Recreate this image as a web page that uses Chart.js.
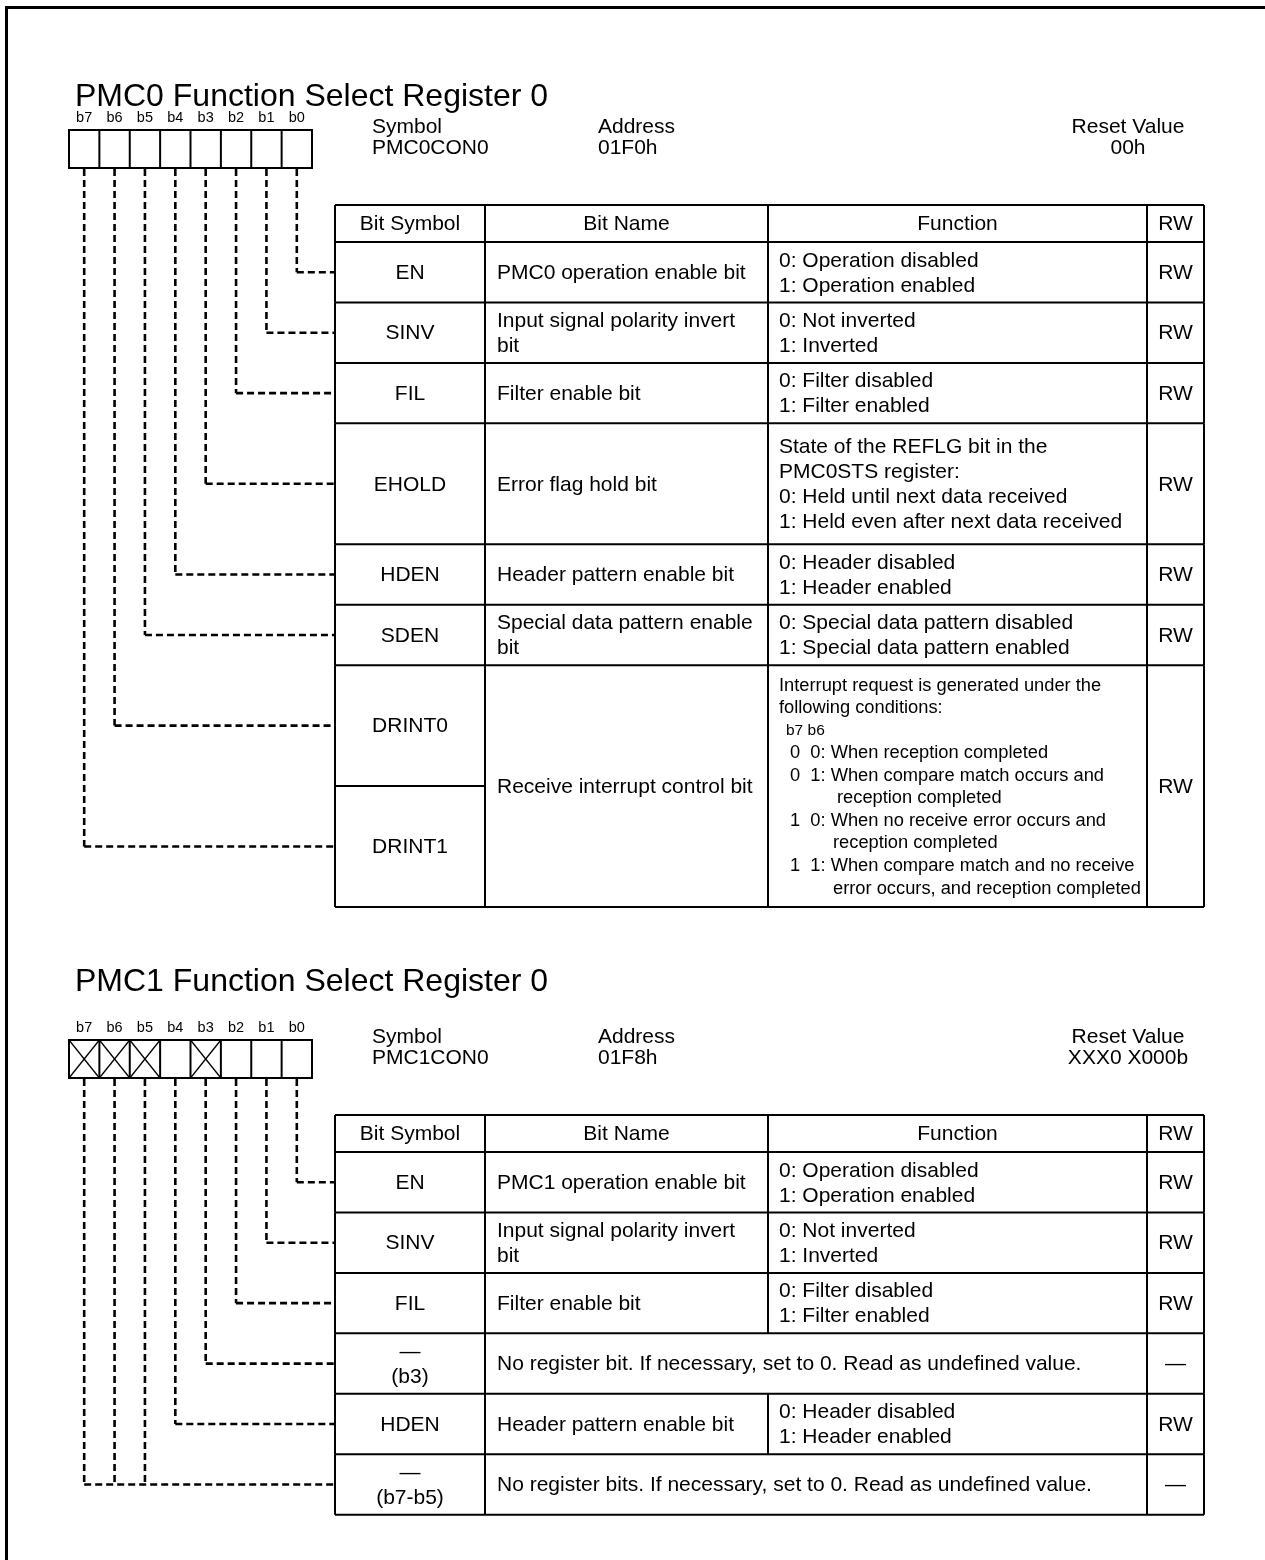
<!DOCTYPE html>
<html>
<head>
<meta charset="utf-8">
<script src="https://cdn.jsdelivr.net/npm/chart.js@4.4.0/dist/chart.umd.min.js"></script>
<style>
    html, body { margin: 0; padding: 0; background: #fff; }
    canvas { display: block; }
</style>
</head>
<body>
<canvas id="regChart" width="1265" height="1560"></canvas>
<script>
// ---- DATA ----
const bitLabels = ['b7', 'b6', 'b5', 'b4', 'b3', 'b2', 'b1', 'b0'];
const headerLabels = ['Bit Symbol', 'Bit Name', 'Function', 'RW'];
const infoLabels = ['Symbol', 'Address', 'Reset Value'];

const reg0Title = 'PMC0 Function Select Register 0';
const reg0Info = ['PMC0CON0', '01F0h', '00h'];
const reg0Unused = [];
const drintFunc = [
    'Interrupt request is generated under the',
    'following conditions:',
    'b7 b6',
    '0  0: When reception completed',
    '0  1: When compare match occurs and',
    'reception completed',
    '1  0: When no receive error occurs and',
    'reception completed',
    '1  1: When compare match and no receive',
    'error occurs, and reception completed'
];
const reg0Rows = [
    { syms: [['EN']], bits: [[0]], name: ['PMC0 operation enable bit'], func: ['0: Operation disabled', '1: Operation enabled'], rw: 'RW' },
    { syms: [['SINV']], bits: [[1]], name: ['Input signal polarity invert', 'bit'], func: ['0: Not inverted', '1: Inverted'], rw: 'RW' },
    { syms: [['FIL']], bits: [[2]], name: ['Filter enable bit'], func: ['0: Filter disabled', '1: Filter enabled'], rw: 'RW' },
    { syms: [['EHOLD']], bits: [[3]], name: ['Error flag hold bit'], func: ['State of the REFLG bit in the', 'PMC0STS register:', '0: Held until next data received', '1: Held even after next data received'], rw: 'RW' },
    { syms: [['HDEN']], bits: [[4]], name: ['Header pattern enable bit'], func: ['0: Header disabled', '1: Header enabled'], rw: 'RW' },
    { syms: [['SDEN']], bits: [[5]], name: ['Special data pattern enable', 'bit'], func: ['0: Special data pattern disabled', '1: Special data pattern enabled'], rw: 'RW' },
    { syms: [['DRINT0'], ['DRINT1']], bits: [[6], [7]], name: ['Receive interrupt control bit'], func: drintFunc, rw: 'RW' }
];

const reg1Title = 'PMC1 Function Select Register 0';
const reg1Info = ['PMC1CON0', '01F8h', 'XXX0 X000b'];
const reg1Unused = [7, 6, 5, 3];
const reg1Rows = [
    { syms: [['EN']], bits: [[0]], name: ['PMC1 operation enable bit'], func: ['0: Operation disabled', '1: Operation enabled'], rw: 'RW' },
    { syms: [['SINV']], bits: [[1]], name: ['Input signal polarity invert', 'bit'], func: ['0: Not inverted', '1: Inverted'], rw: 'RW' },
    { syms: [['FIL']], bits: [[2]], name: ['Filter enable bit'], func: ['0: Filter disabled', '1: Filter enabled'], rw: 'RW' },
    { syms: [['\u2014', '(b3)']], bits: [[3]], name: null, func: ['No register bit. If necessary, set to 0. Read as undefined value.'], rw: '\u2014' },
    { syms: [['HDEN']], bits: [[4]], name: ['Header pattern enable bit'], func: ['0: Header disabled', '1: Header enabled'], rw: 'RW' },
    { syms: [['\u2014', '(b7-b5)']], bits: [[5, 6, 7]], name: null, func: ['No register bits. If necessary, set to 0. Read as undefined value.'], rw: '\u2014' }
];

// ---- LAYOUT ----
const W = 1265, H = 1560;
const FONT = '"Liberation Sans", Arial, Helvetica, sans-serif';
const BOX = { x: 69, cell: 30.375, h: 38 };
const COLS = [335, 485, 768, 1147, 1204];
const HEADER_H = 37;
const UNIT = 60.45;
const LH = 25;

const layouts = [
    { titleY: 97, boxTop: 130, infoY: 126, tableTop: 205, units: [[1], [1], [1], [2], [1], [1], [2, 2]], dense: 6 },
    { titleY: 982, boxTop: 1040, infoY: 1036, tableTop: 1115, units: [[1], [1], [1], [1], [1], [1]], dense: -1 }
];
const denseIndent = [0, 0, 7, 11, 11, 58, 11, 54, 11, 54];

const registers = [
    { title: reg0Title, info: reg0Info, unused: reg0Unused, rows: reg0Rows },
    { title: reg1Title, info: reg1Info, unused: reg1Unused, rows: reg1Rows }
];

// bit index (7..0) -> centre of its box cell
function bitX(bit) {
    return BOX.x + (7 - bit + 0.5) * BOX.cell;
}

const diagramPlugin = {
    id: 'registerDiagram',
    afterDraw(chart) {
        const ctx = chart.ctx;
        const sx = v => chart.scales.x.getPixelForValue(v);
        const sy = v => chart.scales.y.getPixelForValue(v);

        function seg(x1, y1, x2, y2) {
            ctx.beginPath();
            ctx.moveTo(sx(x1), sy(y1));
            ctx.lineTo(sx(x2), sy(y2));
            ctx.stroke();
        }
        function txt(s, x, y, size, align) {
            ctx.font = size + 'px ' + FONT;
            ctx.textAlign = align || 'left';
            ctx.textBaseline = 'middle';
            ctx.fillText(s, sx(x), sy(y));
        }
        function lines(arr, x, midY, size, align) {
            const top = midY - (arr.length - 1) * LH / 2;
            arr.forEach((s, i) => txt(s, x, top + i * LH, size, align));
        }

        ctx.save();
        ctx.fillStyle = '#000';
        ctx.strokeStyle = '#000';

        // outer frame (top + left)
        ctx.lineWidth = 3;
        ctx.beginPath();
        ctx.moveTo(sx(6.5), sy(H));
        ctx.lineTo(sx(6.5), sy(7.5));
        ctx.lineTo(sx(W), sy(7.5));
        ctx.stroke();

        registers.forEach((reg, ri) => {
            const lay = layouts[ri];
            const boxBottom = lay.boxTop + BOX.h;

            txt(reg.title, 75, lay.titleY, 32);

            // bit labels and register box
            bitLabels.forEach((b, i) => txt(b, BOX.x + (i + 0.5) * BOX.cell, lay.boxTop - 12, 14.5, 'center'));
            ctx.lineWidth = 2;
            ctx.setLineDash([]);
            ctx.strokeRect(sx(BOX.x), sy(lay.boxTop), 8 * BOX.cell, BOX.h);
            for (let i = 1; i < 8; i++) seg(BOX.x + i * BOX.cell, lay.boxTop, BOX.x + i * BOX.cell, boxBottom);
            ctx.lineWidth = 1.3;
            reg.unused.forEach(bit => {
                const x0 = BOX.x + (7 - bit) * BOX.cell;
                seg(x0, lay.boxTop, x0 + BOX.cell, boxBottom);
                seg(x0 + BOX.cell, lay.boxTop, x0, boxBottom);
            });

            // symbol / address / reset value
            txt(infoLabels[0], 372, lay.infoY + 1, 21);
            txt(reg.info[0], 372, lay.infoY + 22, 21);
            txt(infoLabels[1], 598, lay.infoY + 1, 21);
            txt(reg.info[1], 598, lay.infoY + 22, 21);
            txt(infoLabels[2], 1128, lay.infoY + 1, 21, 'center');
            txt(reg.info[2], 1128, lay.infoY + 22, 21, 'center');

            // table header
            let y = lay.tableTop;
            ctx.lineWidth = 2;
            seg(COLS[0], y, COLS[4], y);
            headerLabels.forEach((h, c) => txt(h, (COLS[c] + COLS[c + 1]) / 2, y + HEADER_H / 2 + 1, 21, 'center'));
            COLS.forEach(cx => seg(cx, y, cx, y + HEADER_H));
            y += HEADER_H;
            seg(COLS[0], y, COLS[4], y);

            reg.rows.forEach((row, gi) => {
                const units = lay.units[gi];
                const gh = units.reduce((a, u) => a + u, 0) * UNIT;
                const mid = y + gh / 2;

                // symbol sub-rows and dashed connectors
                let sy0 = y;
                row.syms.forEach((sym, si) => {
                    const h = units[si] * UNIT;
                    const smid = sy0 + h / 2;
                    lines(sym, (COLS[0] + COLS[1]) / 2, smid + 1, 21, 'center');
                    if (si < row.syms.length - 1) {
                        ctx.lineWidth = 2;
                        ctx.setLineDash([]);
                        seg(COLS[0], sy0 + h, COLS[1], sy0 + h);
                    }
                    ctx.lineWidth = 2.6;
                    ctx.setLineDash([7, 4]);
                    const bits = row.bits[si];
                    bits.forEach(bit => seg(bitX(bit), boxBottom + 1, bitX(bit), smid));
                    const xs = bits.map(bitX);
                    seg(Math.min(...xs), smid, COLS[0], smid);
                    ctx.setLineDash([]);
                    sy0 += h;
                });

                // name / function
                if (row.name) {
                    lines(row.name, COLS[1] + 12, mid + 1, 21);
                    if (gi === lay.dense) {
                        const lh = 22.55;
                        const top = mid - (row.func.length - 1) * lh / 2 + 1;
                        row.func.forEach((s, li) => {
                            txt(s, COLS[2] + 11 + denseIndent[li], top + li * lh, li === 2 ? 15.5 : 18.3);
                        });
                    } else {
                        lines(row.func, COLS[2] + 11, mid + 1, 21);
                    }
                } else {
                    lines(row.func, COLS[1] + 12, mid + 1, 21);
                }
                txt(row.rw, (COLS[3] + COLS[4]) / 2, mid + 1, 21, 'center');

                // cell borders
                ctx.lineWidth = 2;
                [COLS[0], COLS[1], COLS[3], COLS[4]].forEach(cx => seg(cx, y, cx, y + gh));
                if (row.name) seg(COLS[2], y, COLS[2], y + gh);
                y += gh;
                seg(COLS[0], y, COLS[4], y);
            });
        });
        ctx.restore();
    }
};

new Chart(document.getElementById('regChart').getContext('2d'), {
    type: 'scatter',
    data: { datasets: [] },
    options: {
        responsive: false,
        animation: false,
        events: [],
        layout: { padding: 0 },
        plugins: { legend: { display: false }, tooltip: { enabled: false } },
        scales: {
            x: { type: 'linear', min: 0, max: W, display: false },
            y: { type: 'linear', min: 0, max: H, reverse: true, display: false }
        }
    },
    plugins: [diagramPlugin]
});
</script>
</body>
</html>
